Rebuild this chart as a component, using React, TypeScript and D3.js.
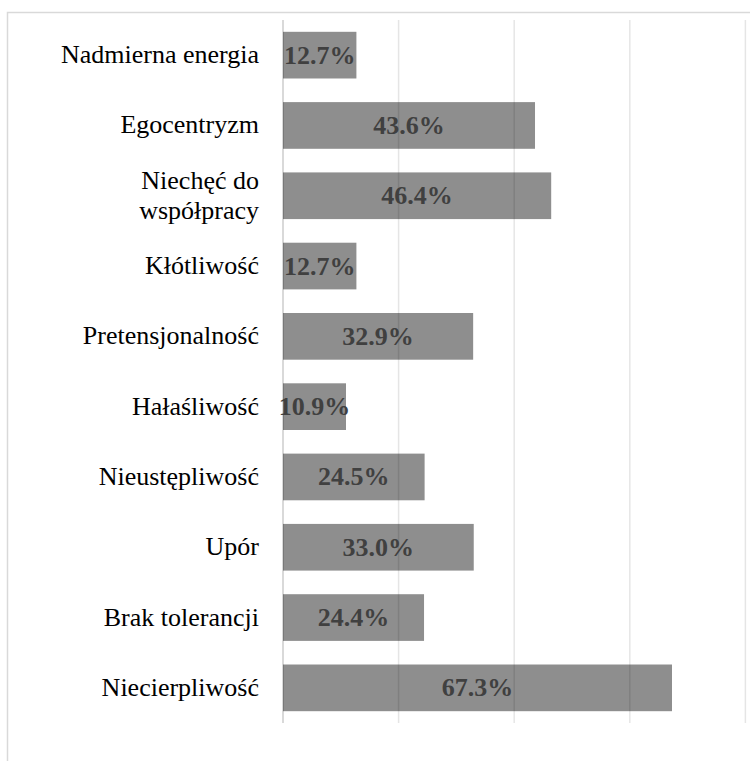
import React from "react";
import * as d3 from "d3";

const categories: string[][] = [
  ["Nadmierna energia"],
  ["Egocentryzm"],
  ["Niechęć do", "współpracy"],
  ["Kłótliwość"],
  ["Pretensjonalność"],
  ["Hałaśliwość"],
  ["Nieustępliwość"],
  ["Upór"],
  ["Brak tolerancji"],
  ["Niecierpliwość"],
];
const values: number[] = [12.7, 43.6, 46.4, 12.7, 32.9, 10.9, 24.5, 33.0, 24.4, 67.3];
const gridTicks: number[] = [0, 20, 40, 60, 80];

const W = 750;
const H = 761;

export default function App() {
  const x0 = 283;
  const x = d3.scaleLinear().domain([0, 80]).range([x0, x0 + 4 * 115.6]);
  const keys = categories.map((_, i) => String(i));
  const y = d3.scaleBand<string>().domain(keys).range([20, 723]).paddingInner(0.336).paddingOuter(0.168);
  const bw = y.bandwidth();

  return (
    <div style={{ fontFamily: "Liberation Serif" }}>
      <svg width={W} height={H} fontFamily="Liberation Serif" style={{ position: "absolute", left: 0, top: 0 }}>
        <rect x={0} y={0} width={W} height={H} fill="#fff" />
        <rect x={7.5} y={12.5} width={W + 10} height={H + 10} fill="none" stroke="#d9d9d9" strokeWidth={1.5} />
        {values.map((v, i) => (
          <rect key={"b" + i} x={x(0)} y={y(String(i))!} width={x(v) - x(0)} height={bw} fill="#8e8e8e" />
        ))}
        {gridTicks.map((t) => (
          <line
            key={"g" + t}
            x1={x(t)}
            x2={x(t)}
            y1={20}
            y2={723}
            stroke="#000"
            strokeOpacity={t === 0 ? 0.2 : 0.1}
            strokeWidth={1.5}
          />
        ))}
        {categories.map((lines, i) => {
          const cy = y(String(i))! + bw / 2;
          const n = lines.length;
          return lines.map((l, j) => (
            <text
              key={"c" + i + "-" + j}
              x={259}
              y={cy + 8 + (j - (n - 1) / 2) * 30}
              textAnchor="end"
              fontSize={26}
              fill="#000"
              fontFamily="Liberation Serif"
            >
              {l}
            </text>
          ));
        })}
        {values.map((v, i) => (
          <text
            key={"v" + i}
            x={(x(0) + x(v)) / 2}
            y={y(String(i))! + bw / 2 + 8.5}
            textAnchor="middle"
            fontSize={26}
            fontWeight="bold"
            fill="#404040"
            fontFamily="Liberation Serif"
          >
            {v.toFixed(1) + "%"}
          </text>
        ))}
      </svg>
    </div>
  );
}
